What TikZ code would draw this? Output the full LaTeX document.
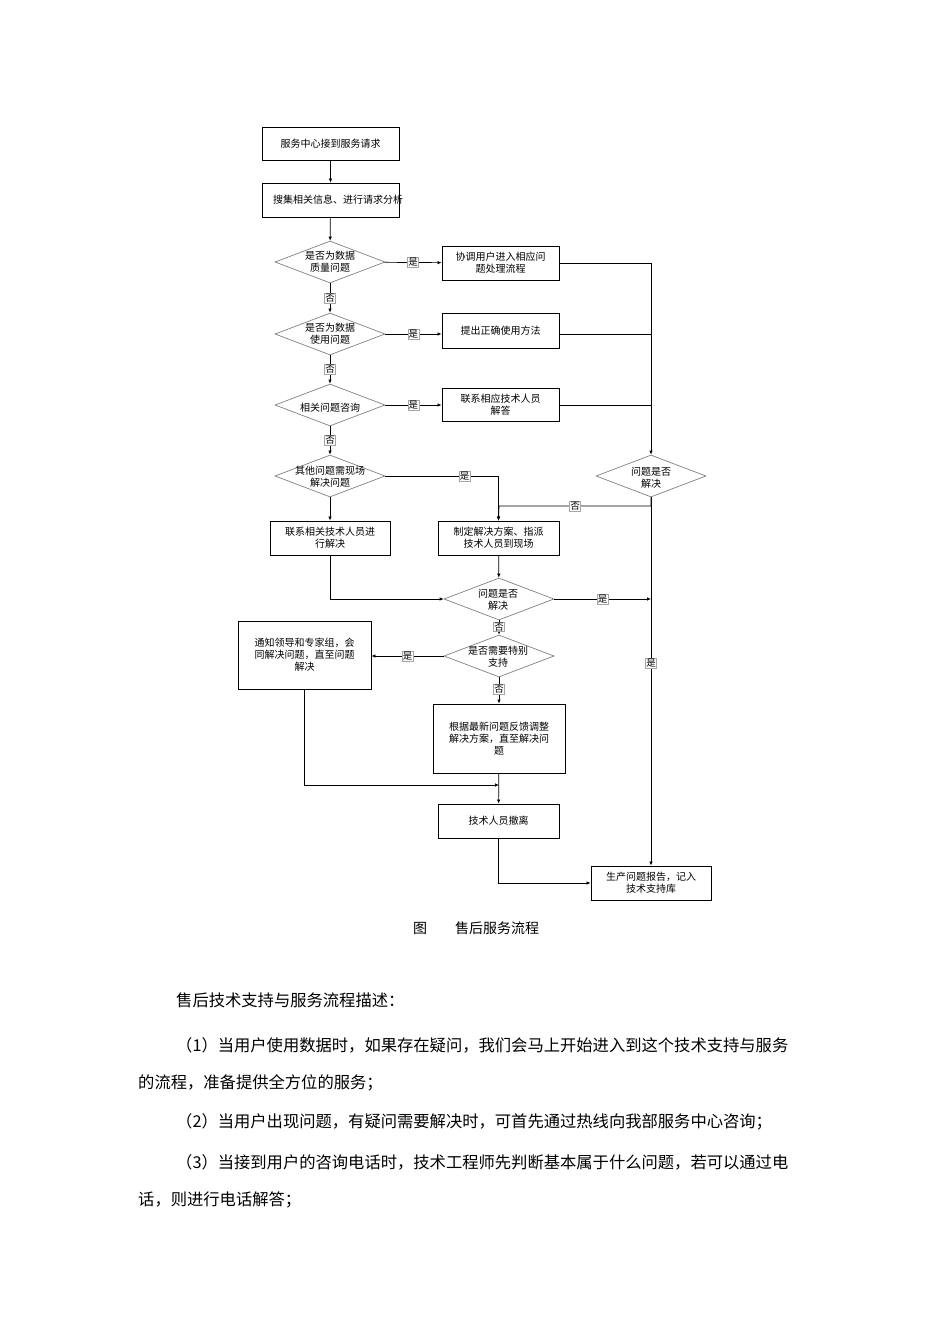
\documentclass[tikz,border=0pt]{standalone}
\usepackage{fontspec}
\setmainfont{Noto Sans CJK SC}
\usetikzlibrary{shapes.geometric,arrows.meta}
\begin{document}
\begin{tikzpicture}[x=1pt,y=-1pt,
 box/.style={draw,line width=0.9pt,inner sep=1pt,font=\fontsize{10}{12}\selectfont,align=center},
 dia/.style={diamond,draw=gray,line width=0.7pt,minimum width=110pt,minimum height=42pt,inner sep=0pt},
 dtxt/.style={font=\fontsize{10}{12}\selectfont,align=center},
 lab/.style={fill=white,draw=gray!70,line width=0.4pt,inner sep=0.8pt,font=\fontsize{9.5}{10}\selectfont},
 ar/.style={-{Latex[length=4pt,width=3.5pt]},line width=0.7pt},
 ln/.style={line width=0.7pt}]
\useasboundingbox (0,0) rectangle (950,1344);
\node[box,minimum width=137pt,minimum height=33pt] (b1) at (330.5,143.5) {服务中心接到服务请求};
\node[box,minimum width=137pt,minimum height=34pt,text width=115pt] (b2) at (330.5,200) {搜集相关信息、进行请求分析};
\node[dia] (d1) at (330,262) {}; \node[dtxt] at (330,262) {是否为数据\\质量问题};
\node[dia] (d2) at (330,334) {}; \node[dtxt] at (330,334) {是否为数据\\使用问题};
\node[dia] (d3) at (330,405) {}; \node[dtxt] at (330,408) {相关问题咨询};
\node[dia] (d4) at (330,476) {}; \node[dtxt] at (330,477) {其他问题需现场\\解决问题};
\node[box,minimum width=117pt,minimum height=34pt] (r1) at (500.5,263) {协调用户进入相应问\\题处理流程};
\node[box,minimum width=117pt,minimum height=35pt] (r2) at (500.5,330.5) {提出正确使用方法};
\node[box,minimum width=117pt,minimum height=33pt] (r3) at (500.5,404.5) {联系相应技术人员\\解答};
\node[dia] (d5) at (651,476) {}; \node[dtxt] at (651,478) {问题是否\\解决};
\node[box,minimum width=120pt,minimum height=34pt] (l1) at (330,538) {联系相关技术人员进\\行解决};
\node[box,minimum width=121pt,minimum height=34pt] (r5) at (498.5,538) {制定解决方案、指派\\技术人员到现场};
\node[dia] (d6) at (499,599) {}; \node[dtxt] at (498,600) {问题是否\\解决};
\node[dia] (d7) at (499,656) {}; \node[dtxt] at (498,657) {是否需要特别\\支持};
\node[box,minimum width=133pt,minimum height=68pt] (l2) at (304.5,655) {通知领导和专家组，会\\同解决问题，直至问题\\解决};
\node[box,minimum width=132pt,minimum height=69pt] (r7) at (499,738.5) {根据最新问题反馈调整\\解决方案，直至解决问\\题};
\node[box,minimum width=121pt,minimum height=34pt] (r8) at (498.5,821) {技术人员撤离};
\node[box,minimum width=120pt,minimum height=34pt] (f) at (651,883) {生产问题报告，记入\\技术支持库};
\coordinate (j1) at (651,263);
\coordinate (j2) at (499,506);
\coordinate (j3) at (651,599);
\coordinate (j4) at (499,785);
\draw[ar] (b1) -- (b2);
\draw[ar] (b2) -- (d1);
\draw[ar] (d1) -- node[lab]{否} (d2);
\draw[ar] (d2) -- node[lab]{否} (d3);
\draw[ar] (d3) -- node[lab]{否} (d4);
\draw[ar] (d1) -- node[lab]{是} (r1);
\draw[ar] (d2.east) -- node[lab]{是} (d2.east-|r2.west);
\draw[ar] (d3.east) -- node[lab]{是} (d3.east-|r3.west);
\draw[ln] (r1.east) -- (j1);
\draw[ln] (r2.east|-d2.east) -- (d2.east-|j1);
\draw[ln] (r3.east|-d3.east) -- (d3.east-|j1);
\draw[ar] (j1) -- (d5.north);
\draw[ar] (d4.east) -- node[lab,pos=0.7]{是} (d4.east-|r5.north) -- (r5.north);
\draw[ar] (d5.south) -- (d5.south|-j2) -- node[lab]{否} (j2) -- (r5.north);
\draw[ar] (d5.south) -- node[lab,pos=0.45]{是} (f.north);
\draw[ar] (d4) -- (l1);
\draw[ar] (r5) -- (d6);
\draw[ar] (l1.south) -- (l1.south|-d6.west) -- (d6.west);
\draw[ar] (d6.east) -- node[lab]{是} (j3);
\draw[ar] (d6) -- node[lab,pos=0.45]{否} (d7);
\draw[ar] (d7.west) -- node[lab]{是} (l2.east|-d7.west);
\draw[ar] (d7) -- node[lab,pos=0.45]{否} (r7);
\draw[ar] (l2.south) -- (l2.south|-j4) -- (j4);
\draw[ar] (r7) -- (r8);
\draw[ar] (r8.south) -- (r8.south|-f.west) -- (f.west);
\node[font=\fontsize{14}{16}\selectfont] (cap) at (476,928) {图\hspace{2em}售后服务流程};
\begin{scope}[every node/.style={anchor=west,inner sep=0pt,font=\fontsize{16.3}{18}\selectfont}]
\node (p0) at (176,1000) {售后技术支持与服务流程描述：};
\node (p1) at (176,1045) {（1）当用户使用数据时，如果存在疑问，我们会马上开始进入到这个技术支持与服务};
\node (p2) at (138,1083) {的流程，准备提供全方位的服务；};
\node (p3) at (176,1122) {（2）当用户出现问题，有疑问需要解决时，可首先通过热线向我部服务中心咨询；};
\node (p4) at (176,1162) {（3）当接到用户的咨询电话时，技术工程师先判断基本属于什么问题，若可以通过电};
\node (p5) at (138,1200) {话，则进行电话解答；};
\end{scope}
\end{tikzpicture}
\end{document}
